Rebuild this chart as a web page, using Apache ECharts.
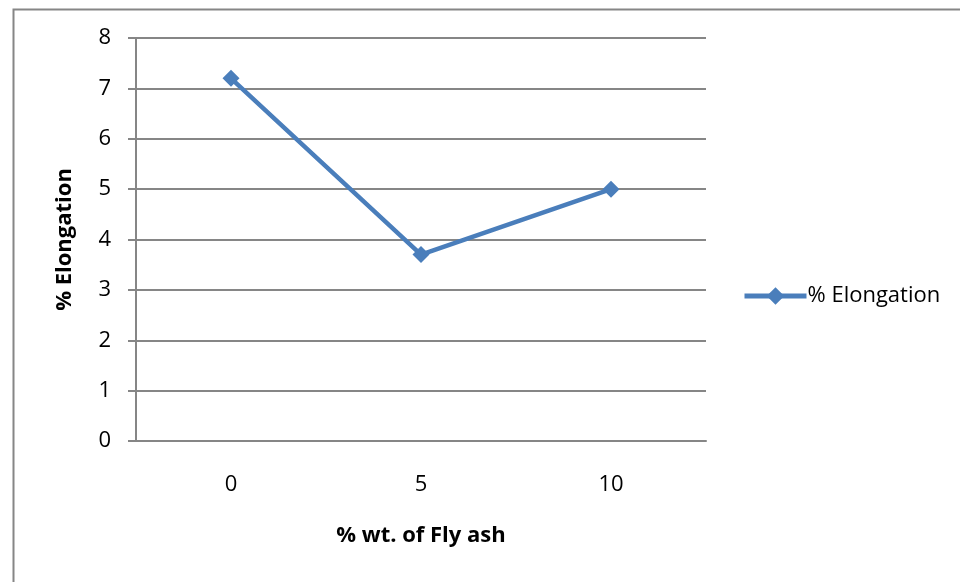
<!DOCTYPE html>
<html><head><meta charset="utf-8">
<script src="https://cdn.jsdelivr.net/npm/echarts@6/dist/echarts.min.js"></script>
<style>html,body{margin:0;padding:0;background:#fff}#c{width:960px;height:582px}</style>
</head><body><div id="c"></div>
<script>
const categories = ['0', '5', '10'];
const elongation = [7.2, 3.7, 5.0];
const seriesName = '% Elongation';
const xName = '% wt. of Fly ash';
const yName = '% Elongation';

const chart = echarts.init(document.getElementById('c'));
const font = '"Open Sans", sans-serif';
chart.setOption({
  animation: false,
  backgroundColor: '#fff',
  graphic: [{
    type: 'rect', shape: { x: 13.5, y: 9.5, width: 1000, height: 1000 },
    style: { fill: 'none', stroke: '#868686', lineWidth: 2 }, silent: true
  }],
  grid: { left: 136, right: 254, top: 38, bottom: 141 },
  legend: {
    left: 737, top: 280, itemWidth: 62, itemHeight: 22, itemGap: 0,
    lineStyle: { width: 5 },
    textStyle: { fontFamily: font, fontSize: 22, color: '#000', padding: [0,0,0,-4] },
    data: [seriesName]
  },
  xAxis: {
    type: 'category', data: categories, boundaryGap: true,
    name: xName, nameLocation: 'middle', nameGap: 84,
    nameTextStyle: { fontFamily: font, fontSize: 22, fontWeight: 'bold', color: '#000' },
    axisLine: { lineStyle: { color: '#868686', width: 2 } },
    axisTick: { show: false },
    axisLabel: { fontFamily: font, fontSize: 22, color: '#000', margin: 33 }
  },
  yAxis: {
    type: 'value', min: 0, max: 8, interval: 1,
    name: yName, nameLocation: 'middle', nameGap: 60, nameRotate: 90,
    nameTextStyle: { fontFamily: font, fontSize: 22, fontWeight: 'bold', color: '#000' },
    axisLine: { show: true, lineStyle: { color: '#868686', width: 2 } },
    axisTick: { show: true, length: 8, lineStyle: { color: '#868686', width: 2 } },
    axisLabel: { fontFamily: font, fontSize: 22, color: '#000', margin: 25 },
    splitLine: { lineStyle: { color: '#868686', width: 2 } }
  },
  series: [{
    name: seriesName, type: 'line', data: elongation,
    symbol: 'diamond', symbolSize: 17,
    lineStyle: { color: '#4a7ebb', width: 4.5 },
    itemStyle: { color: '#4a7ebb' }
  }]
});
</script></body></html>
